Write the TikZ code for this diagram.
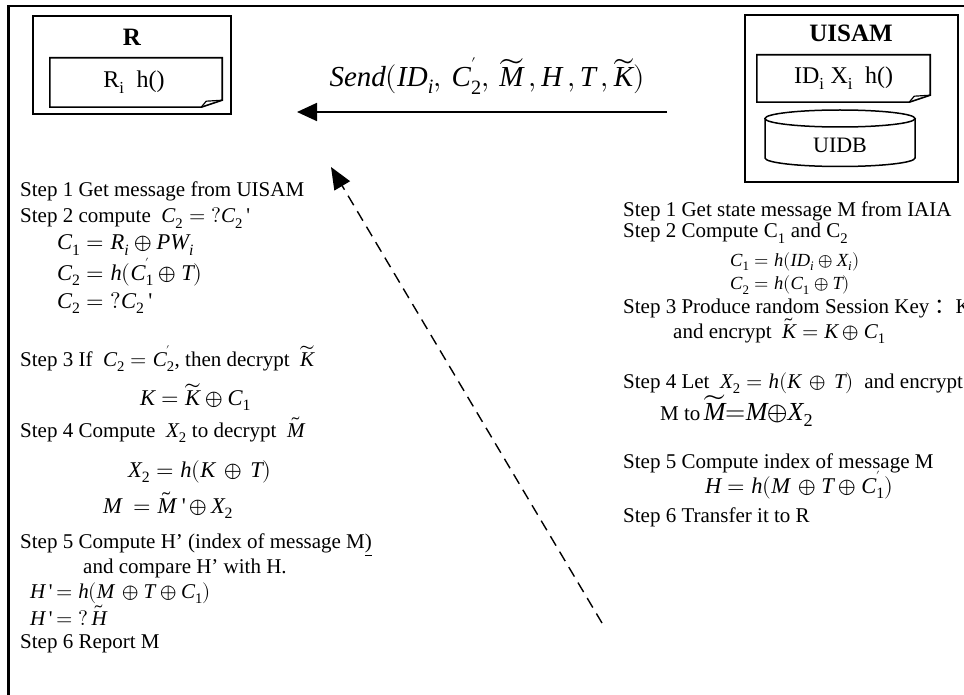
\documentclass[tikz,border=0pt]{standalone}
\usepackage{fontspec}
\usepackage{unicode-math}
\setmainfont{Liberation Serif}
\setmathfont{Latin Modern Math}
\setmathfont[range=it->up]{Liberation Serif Italic}
\setmathfont[range=up/num]{Liberation Serif}
\newfontfamily\cjk{Noto Sans CJK SC}
\usetikzlibrary{arrows.meta,calc}

\tikzset{
  steptext/.style={anchor=base west, inner sep=0pt, font=\fontsize{21}{25}\selectfont},
  eqtext/.style={anchor=base west, inner sep=0pt, font=\fontsize{22.5}{27}\selectfont},
  smalleq/.style={anchor=base west, inner sep=0pt, font=\fontsize{18.5}{22}\selectfont},
  boxtitle/.style={inner sep=0pt, font=\fontsize{25}{30}\selectfont\bfseries},
  notebox/.style={inner sep=0pt, font=\fontsize{24}{28}\selectfont},
  msgarrow/.style={line width=1.8pt, -{Triangle[length=20pt,width=18pt]}},
}

% straight tick after a symbol
\newcommand{\tick}{\textquotesingle}

% draws the folded note outline round a node
\newcommand{\notefold}[1]{%
  \draw[line width=1.6pt] (#1.north west) -- (#1.north east)
    -- ($(#1.south east)+(0,7)$) -- ($(#1.south east)+(-21,0)$)
    -- (#1.south west) -- cycle;
  \draw[line width=1.2pt] ($(#1.south east)+(-21,0)$) -- ($(#1.south east)+(-16,6)$)
    -- ($(#1.south east)+(0,7)$);
}

\begin{document}
\begin{tikzpicture}[x=1pt, y=1pt]
  \useasboundingbox (0,0) rectangle (964,-695);

  % outer frame, cut at right and bottom
  \draw[line width=2.4pt] (8.5,-720) -- (8.5,-6) -- (990,-6);

  % R
  \draw[line width=1.8pt] (33,-16) rectangle (231,-114);
  \node[boxtitle] (rtitle) at (132,-37) {R};
  \node[notebox, minimum width=172, minimum height=49] (rnote) at (136,-82.5)
    {\hspace*{-4pt}R\textsubscript{i}\ \ h()};
  \notefold{rnote}

  % UISAM
  \draw[line width=1.8pt] (745,-15) rectangle (958,-182);
  \node[boxtitle] (utitle) at (851,-33) {UISAM};
  \node[notebox, minimum width=173, minimum height=47] (unote) at (843.5,-78.5)
    {ID\textsubscript{i} X\textsubscript{i}\ \ h()};
  \notefold{unote}
  \draw[line width=1.5pt] (840,-118.5) ellipse [x radius=75pt, y radius=8.5pt];
  \draw[line width=1.5pt] (765,-118.5) -- (765,-158)
    arc[start angle=180, end angle=360, x radius=75pt, y radius=8.5pt] -- (915,-118.5);
  \node[inner sep=0pt, font=\fontsize{22}{26}\selectfont] (uidb) at (840,-145) {UIDB};

  % message R <- UISAM
  \coordinate (sendfrom) at (667,-112);
  \coordinate (sendto) at (297,-112);
  \draw[msgarrow] (sendfrom) -- (sendto);
  \node[inner sep=0pt, font=\fontsize{29}{34}\selectfont] (sendlbl) at (487,-76)
    {$Send(ID_i,\,C_2^{'},\,\widetilde{M}\,,H\,,T\,,\widetilde{K})$};

  % dashed arrow
  \coordinate (dashfrom) at (602,-623);
  \coordinate (dashto) at (331,-167);
  \draw[line width=1.4pt, dash pattern=on 11pt off 7pt,
    -{Triangle[length=22pt,width=18pt]}] (dashfrom) -- (dashto);

  % R side
  \node[steptext] (l1) at (20,-197) {Step 1 Get message from UISAM};
  \node[steptext] (l2) at (20,-223) {Step 2 compute \ $C_2 = ?C_2$\,\tick};
  \node[eqtext] (l3) at (57,-250) {$C_1 = R_i \oplus PW_i$};
  \node[eqtext] (l4) at (57,-280) {$C_2 = h(C_1^{'} \oplus T)$};
  \node[eqtext] (l5) at (57,-308) {$C_2 = ?C_2$\,\tick};
  \node[steptext] (l6) at (20,-366) {Step 3 If \ $C_2 = C_2^{'}$, then decrypt \ $\widetilde{K}$};
  \node[eqtext] (l7) at (140,-405) {$K = \widetilde{K} \oplus C_1$};
  \node[steptext] (l8) at (20,-437) {Step 4 Compute \ $X_2$ to decrypt \ $\tilde{M}$};
  \node[eqtext] (l9) at (128,-477) {$X_2 = h(K \,\oplus\, T)$};
  \node[eqtext] (l10) at (103,-513) {$M\ = \tilde{M}$\ \tick$\,\oplus\, X_2$};
  \node[steptext] (l11) at (20,-548) {Step 5 Compute H’ (index of message M\underline{)}};
  \node[steptext] (l12) at (83,-573) {and compare H’ with H.};
  \node[eqtext, font=\fontsize{21}{25}\selectfont] (l13) at (30,-598) {$H$\,\tick$\,= h(M \,\oplus T \oplus C_1)$};
  \node[eqtext, font=\fontsize{21}{25}\selectfont] (l14) at (30,-625) {$H$\,\tick$\,= ?\,\tilde{H}$};
  \node[steptext] (l15) at (20,-648) {Step 6 Report M};

  % UISAM side
  \node[steptext] (r1) at (623,-217) {Step 1 Get state message M from IAIA};
  \node[steptext] (r2) at (623,-238) {Step 2 Compute C\textsubscript{1} and C\textsubscript{2}};
  \node[smalleq] (r3) at (730,-266) {$C_1 = h(ID_i \oplus X_i)$};
  \node[smalleq] (r4) at (730,-290) {$C_2 = h(C_1 \oplus T)$};
  \node[steptext] (r5) at (623,-313) {Step 3 Produce random Session Key {\cjk ：}K};
  \node[steptext] (r6) at (673,-338) {and encrypt \ $\tilde{K} = K \oplus C_1$};
  \node[steptext] (r7) at (623,-388) {Step 4 Let \ $X_2 = h(K \,\oplus\, T)$ \ and encrypt};
  \node[steptext] (r8) at (660,-420) {M to\,{\fontsize{26}{30}\selectfont$\widetilde{M}{=}M{\oplus}X_2$}};
  \node[steptext] (r9) at (623,-468) {Step 5 Compute index of message M};
  \node[eqtext] (r10) at (705,-493) {$H = h(M \,\oplus T \oplus C_1^{'})$};
  \node[steptext] (r11) at (623,-522) {Step 6 Transfer it to R};
\end{tikzpicture}
\end{document}
